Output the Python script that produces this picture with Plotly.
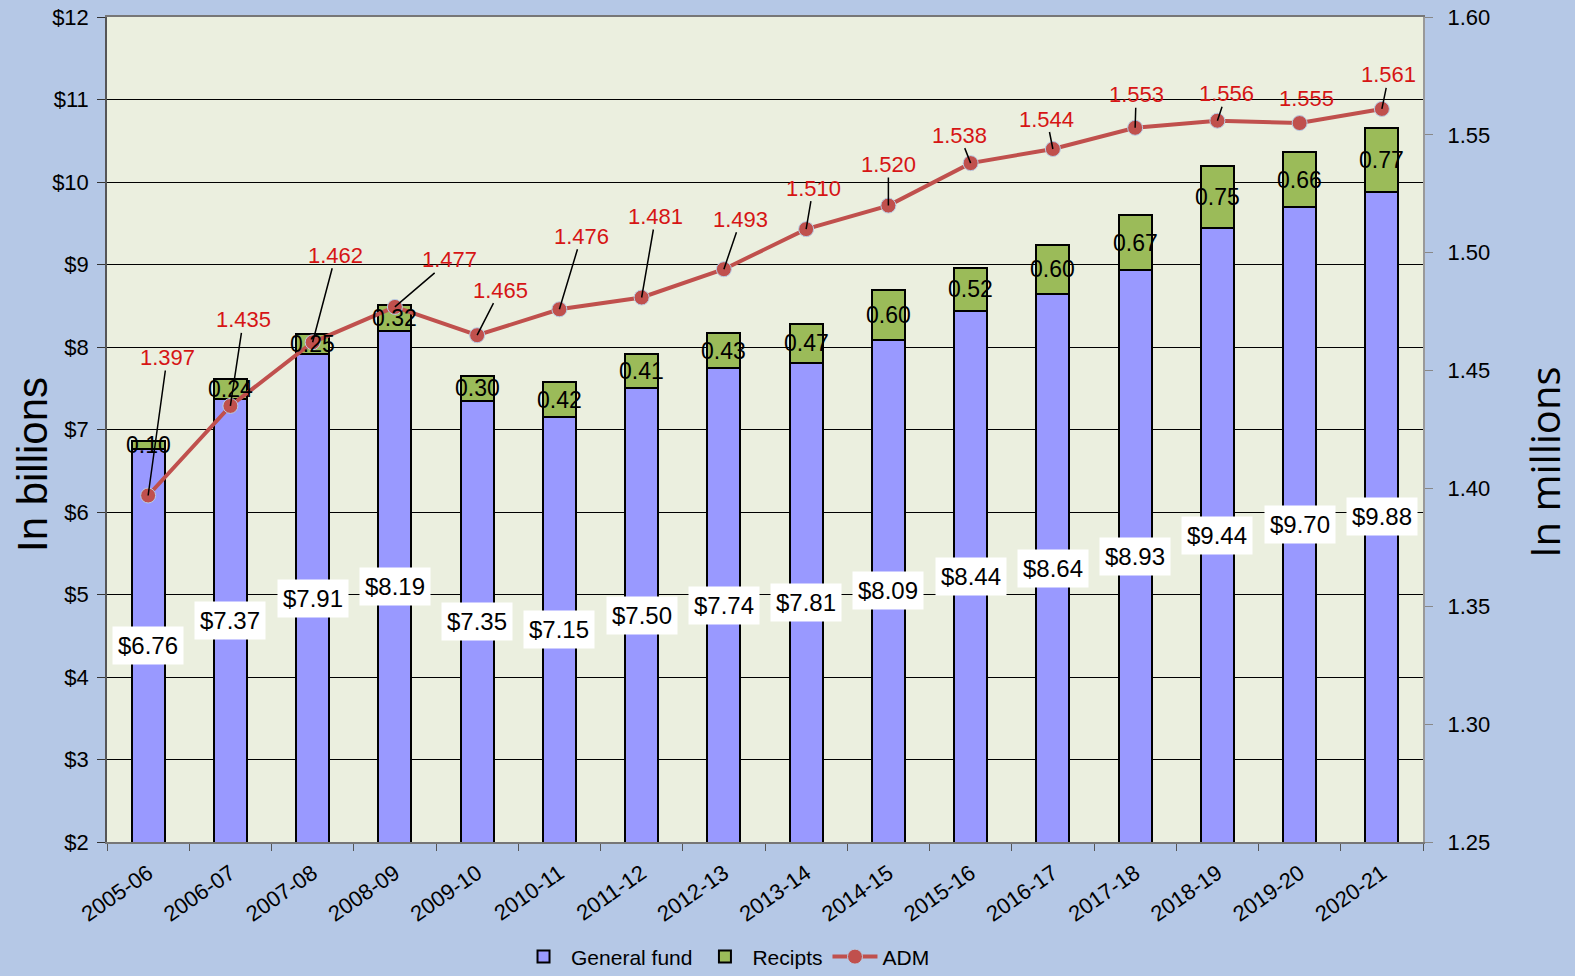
import plotly.graph_objects as go

# school years
years = ["2005-06", "2006-07", "2007-08", "2008-09", "2009-10", "2010-11", "2011-12", "2012-13",
         "2013-14", "2014-15", "2015-16", "2016-17", "2017-18", "2018-19", "2019-20", "2020-21"]

# in billions of dollars
general_fund = [6.76, 7.37, 7.91, 8.19, 7.35, 7.15, 7.50, 7.74,
                7.81, 8.09, 8.44, 8.64, 8.93, 9.44, 9.70, 9.88]
recipts = [0.10, 0.24, 0.25, 0.32, 0.30, 0.42, 0.41, 0.43,
           0.47, 0.60, 0.52, 0.60, 0.67, 0.75, 0.66, 0.77]

# ADM, in millions
adm = [1.397, 1.435, 1.462, 1.477, 1.465, 1.476, 1.481, 1.493,
       1.510, 1.520, 1.538, 1.544, 1.553, 1.556, 1.555, 1.561]

# pixel offsets of the ADM labels from their points (hand placed like in the original)
adm_label_dx = [19, 13, 23, 55, 23, 22, 14, 17, 7, 0, -11, -6, 1, 9, 7, 7]
adm_label_dy = [-138, -86, -87, -47, -45, -73, -81, -50, -41, -41, -28, -30, -33, -27, -25, -34]

Y_MIN = 2
FONT = "Liberation Sans, Arial, sans-serif"
RED_LINE = "#C0504D"
RED_TEXT = "#D61515"

fig = go.Figure()

fig.add_trace(go.Bar(x=years, y=general_fund, name="General fund",
                     marker=dict(color="#9999FF", line=dict(color="black", width=2)),
                     width=0.4))
fig.add_trace(go.Bar(x=years, y=recipts, name="Recipts",
                     marker=dict(color="#9BBB59", line=dict(color="black", width=2)),
                     width=0.4))
fig.add_trace(go.Scatter(x=years, y=adm, name="ADM", yaxis="y2", mode="lines+markers",
                         line=dict(color=RED_LINE, width=4),
                         marker=dict(size=15, color=RED_LINE, line=dict(color="#B9CDE5", width=1))))

annotations = []
for i, yr in enumerate(years):
    # general fund label, centred in the visible part of the bar
    annotations.append(dict(x=yr, y=(Y_MIN + general_fund[i]) / 2, text="$%.2f" % general_fund[i],
                            showarrow=False, bgcolor="white", borderpad=5,
                            font=dict(size=24, color="black", family=FONT)))
    # recipts label
    annotations.append(dict(x=yr, y=general_fund[i] + recipts[i] / 2, text="%.2f" % recipts[i],
                            showarrow=False, font=dict(size=23, color="black", family=FONT)))
    # ADM label with leader line
    annotations.append(dict(x=yr, y=adm[i], yref="y2", text="%.3f" % adm[i],
                            showarrow=True, arrowhead=0, arrowwidth=1.5,
                            arrowcolor="black" if i != 14 else "rgba(0,0,0,0)",
                            ax=adm_label_dx[i], ay=adm_label_dy[i], standoff=0, borderpad=0,
                            font=dict(size=22, color=RED_TEXT, family=FONT)))

# axis titles
annotations.append(dict(text="In billions", xref="paper", yref="paper", x=-0.0562, y=0.457,
                        xanchor="center", yanchor="middle", textangle=-90, showarrow=False,
                        font=dict(size=42, family=FONT)))
annotations.append(dict(text="In millions", xref="paper", yref="paper", x=1.0927, y=0.461,
                        xanchor="center", yanchor="middle", textangle=-90, showarrow=False,
                        font=dict(size=40, family="Open Sans, sans-serif")))

fig.update_layout(
    width=1575, height=976,
    paper_bgcolor="#B5C8E6",
    plot_bgcolor="#EBEFDF",
    barmode="stack",
    margin=dict(l=107, r=152, t=17, b=134),
    font=dict(family=FONT, size=21, color="black"),
    showlegend=True,
    legend=dict(orientation="h", x=0.47, xanchor="center", yref="container", y=0.0195,
                yanchor="middle", font=dict(size=21), bgcolor="rgba(0,0,0,0)", itemwidth=45,
                traceorder="normal"),
    annotations=annotations,
    xaxis=dict(type="category", range=[-0.5, len(years) - 0.5], tickangle=-35,
               tickson="boundaries", ticks="outside", ticklen=7,
               tickcolor="#555", showline=True, linecolor="#777", linewidth=1.5, mirror=True,
               showgrid=False, tickfont=dict(size=22), ticklabelstandoff=8, automargin=False),
    yaxis=dict(range=[Y_MIN, 12], dtick=1, tickprefix="$", ticks="outside", ticklen=8,
               tickcolor="#333", showline=True, linecolor="#555", linewidth=1.5,
               showgrid=True, gridcolor="black", gridwidth=1, zeroline=False,
               tickfont=dict(size=22), ticklabelstandoff=4, automargin=False),
    yaxis2=dict(range=[1.25, 1.60], dtick=0.05, tickformat=".2f", overlaying="y", side="right",
                ticks="outside", ticklen=8, tickcolor="#888", showline=True, linecolor="#999",
                linewidth=2, showgrid=False, zeroline=False, tickfont=dict(size=22),
                ticklabelstandoff=10, automargin=False),
)

fig.write_html("out.html", config={"displayModeBar": False},
               post_script="document.body.style.margin='0';")
